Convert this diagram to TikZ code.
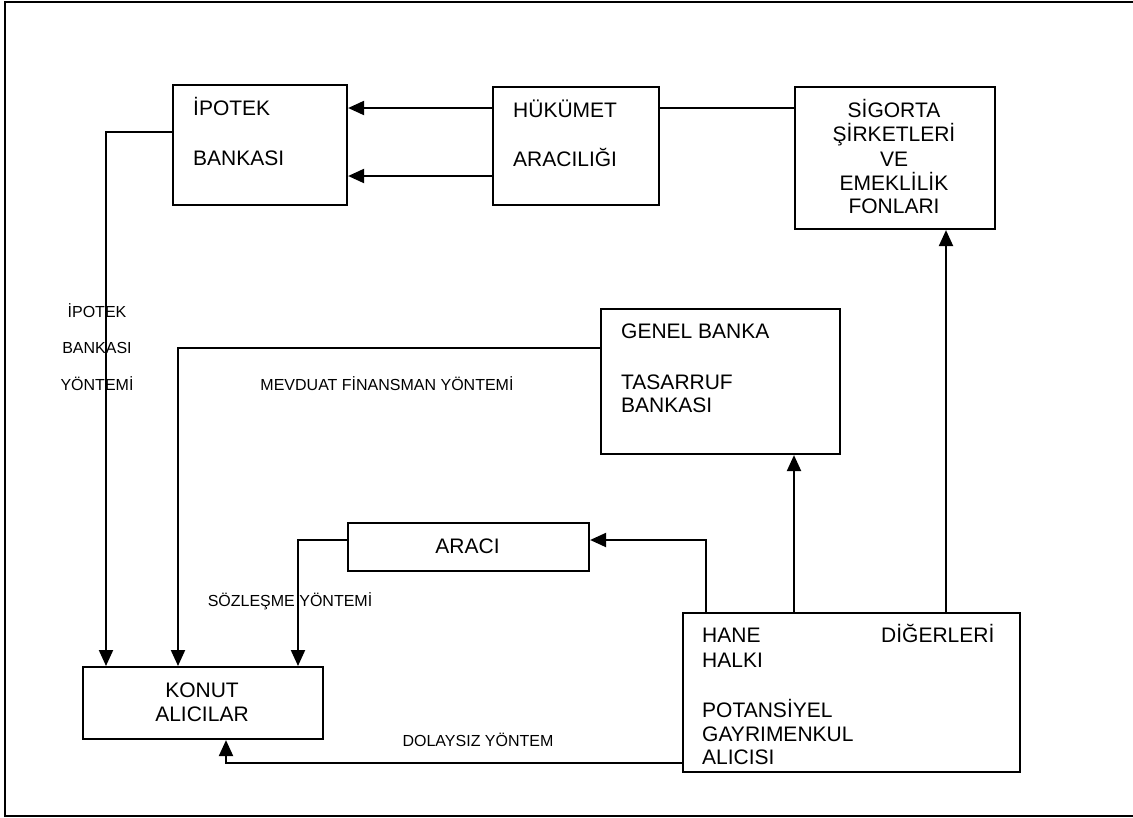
\documentclass[tikz,border=0pt]{standalone}
\usepackage{fontspec}
\setmainfont{Liberation Sans}
\usetikzlibrary{arrows.meta}
\tikzset{
  box/.style={draw, line width=2.1pt, inner sep=0pt, anchor=north west},
  conn/.style={line width=2.1pt},
  arr/.style={conn, -{Triangle[length=16pt,width=14pt]}},
  big/.style={font=\fontsize{21}{24}\selectfont, inner sep=0pt},
  bigl/.style={big, anchor=base west},
  bigc/.style={big, anchor=base},
  lbl/.style={font=\fontsize{16}{19}\selectfont, inner sep=0pt, anchor=base},
  frame/.style={line width=2pt},
}
\begin{document}
\begin{tikzpicture}[x=1pt,y=-1pt]
\useasboundingbox (0,0) rectangle (1133,817);
\draw[frame] (1140,1.5) -- (5,1.5) -- (5,815.5) -- (1140,815.5);

% boxes
\node[box, minimum width=174pt, minimum height=120pt] (ipotek) at (172,84) {};
\node[box, minimum width=166pt, minimum height=118pt] (hukumet) at (492,86) {};
\node[box, minimum width=200pt, minimum height=142pt] (sigorta) at (794,86) {};
\node[box, minimum width=239pt, minimum height=145pt] (genel) at (600,308) {};
\node[box, minimum width=241pt, minimum height=48pt] (araci) at (347,522) {};
\node[box, minimum width=240pt, minimum height=72pt] (konut) at (82,666) {};
\node[box, minimum width=337pt, minimum height=159pt] (hane) at (682,612) {};

% box texts
\node[bigl] (ipt1) at (193,115) {İPOTEK};
\node[bigl] (ipt2) at (193,165) {BANKASI};
\node[bigl] (huk1) at (513,117) {HÜKÜMET};
\node[bigl] (huk2) at (513,166) {ARACILIĞI};
\node[bigc] (sig1) at (894,117) {SİGORTA};
\node[bigc] (sig2) at (894,141) {ŞİRKETLERİ};
\node[bigc] (sig3) at (894,166) {VE};
\node[bigc] (sig4) at (894,190) {EMEKLİLİK};
\node[bigc] (sig5) at (894,213) {FONLARI};
\node[bigl] (gen1) at (621,338) {GENEL BANKA};
\node[bigl] (gen2) at (621,389) {TASARRUF};
\node[bigl] (gen3) at (621,412) {BANKASI};
\node[bigc] (arc1) at (467.5,553) {ARACI};
\node[bigc] (kon1) at (202,697) {KONUT};
\node[bigc] (kon2) at (202,721) {ALICILAR};
\node[bigl] (han1) at (702,642) {HANE};
\node[bigl] (han2) at (702,667) {HALKI};
\node[bigl] (han3) at (702,717) {POTANSİYEL};
\node[bigl] (han4) at (702,741) {GAYRIMENKUL};
\node[bigl] (han5) at (702,764) {ALICISI};
\node[bigl] (dig1) at (881,642) {DİĞERLERİ};

% connector labels
\node[lbl] (l1) at (97,317) {İPOTEK};
\node[lbl] (l2) at (97,353) {BANKASI};
\node[lbl] (l3) at (97,390) {YÖNTEMİ};
\node[lbl] (l4) at (387,390) {MEVDUAT FİNANSMAN YÖNTEMİ};
\node[lbl] (l5) at (290,606) {SÖZLEŞME YÖNTEMİ};
\node[lbl] (l6) at (478,746) {DOLAYSIZ YÖNTEM};

% helper coordinates
\coordinate (c108) at (0,108);
\coordinate (c176) at (0,176);
\coordinate (c132) at (0,132);
\coordinate (c348) at (0,348);
\coordinate (c540) at (0,540);
\coordinate (c763) at (0,763);
\coordinate (x106) at (106,0);
\coordinate (x178) at (178,0);
\coordinate (x298) at (298,0);
\coordinate (x226) at (226,0);
\coordinate (x706) at (706,0);
\coordinate (x794) at (794,0);
\coordinate (x946) at (946,0);

% connectors
\draw[arr] (hukumet.west |- c108) -- (ipotek.east |- c108);
\draw[arr] (hukumet.west |- c176) -- (ipotek.east |- c176);
\draw[conn] (hukumet.east |- c108) -- (sigorta.west |- c108);
\draw[arr] (ipotek.west |- c132) -| (x106 |- konut.north);
\draw[arr] (genel.west |- c348) -| (x178 |- konut.north);
\draw[arr] (araci.west |- c540) -| (x298 |- konut.north);
\draw[arr] (x706 |- hane.north) |- (araci.east |- c540);
\draw[arr] (x794 |- hane.north) -- (x794 |- genel.south);
\draw[arr] (x946 |- hane.north) -- (x946 |- sigorta.south);
\draw[arr] (hane.west |- c763) -| (x226 |- konut.south);
\end{tikzpicture}
\end{document}
